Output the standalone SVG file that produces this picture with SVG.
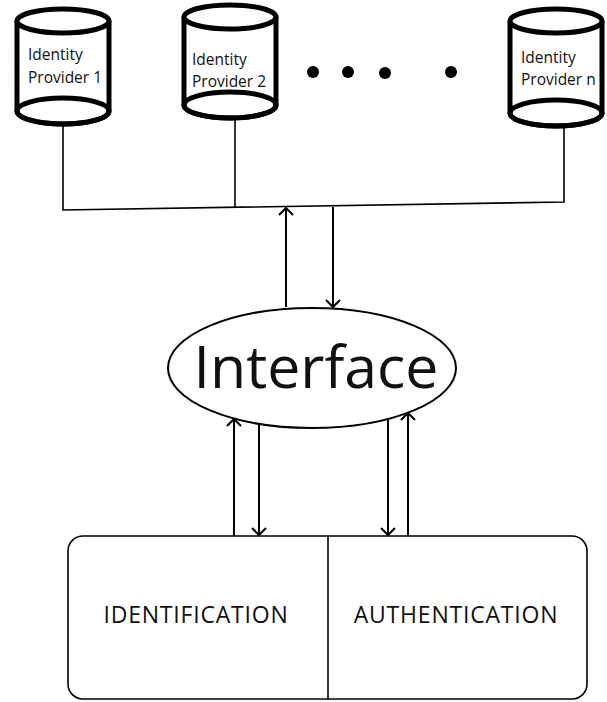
<svg xmlns="http://www.w3.org/2000/svg" width="607" height="702" viewBox="0 0 607 702">
  <style>
    .cyl { fill: #fff; stroke: #000; stroke-width: 5; }
    .rim { fill: none; stroke: #000; stroke-width: 5; }
    .lbl { font-family: "Open Sans", "Noto Sans", sans-serif; font-size: 15.5px; fill: #111; }
    .wire { fill: none; stroke: #000; stroke-width: 1.6; }
    .flow { fill: none; stroke: #000; stroke-width: 2; marker-end: url(#vee); }
    .box { fill: #fff; stroke: #000; stroke-width: 1.6; }
    .cap { font-family: "Open Sans", "Noto Sans", sans-serif; font-size: 23px; letter-spacing: 0.8px; fill: #111; }
  </style>
  <defs>
    <marker id="vee" markerWidth="16" markerHeight="16" refX="8" refY="8" orient="auto" markerUnits="userSpaceOnUse">
      <path d="M1,1 L8,8 L1,15" fill="none" stroke="#000" stroke-width="2"/>
    </marker>
  </defs>

  <rect width="607" height="702" fill="#fff"/>

  <!-- provider cylinders -->
  <g id="idp1">
    <path class="cyl" d="M17,21 L17,111 A46,13 0 0 0 109,111 L109,21"/>
    <ellipse class="cyl" cx="63" cy="21" rx="46" ry="12"/>
    <ellipse class="rim" cx="63" cy="111" rx="46" ry="13"/>
    <text class="lbl" x="28" y="60">Identity</text>
    <text class="lbl" x="28" y="83">Provider 1</text>
  </g>
  <g id="idp2">
    <path class="cyl" d="M184,17 L184,105 A46,13 0 0 0 276,105 L276,17"/>
    <ellipse class="cyl" cx="230" cy="17" rx="46" ry="12"/>
    <ellipse class="rim" cx="230" cy="105" rx="46" ry="13"/>
    <text class="lbl" x="192" y="65">Identity</text>
    <text class="lbl" x="192" y="87">Provider 2</text>
  </g>
  <g id="idpn">
    <path class="cyl" d="M510,21 L510,113 A46,13 0 0 0 602,113 L602,21"/>
    <ellipse class="cyl" cx="556" cy="21" rx="46" ry="12"/>
    <ellipse class="rim" cx="556" cy="113" rx="46" ry="13"/>
    <text class="lbl" x="521" y="63">Identity</text>
    <text class="lbl" x="521" y="85">Provider n</text>
  </g>

  <!-- ellipsis between providers -->
  <g id="more">
    <circle cx="313" cy="72" r="6"/>
    <circle cx="348" cy="72" r="6"/>
    <circle cx="385" cy="73" r="6"/>
    <circle cx="451" cy="72" r="6"/>
  </g>

  <!-- interface -->
  <g id="interface">
    <ellipse cx="312" cy="368" rx="144" ry="60" fill="#fff" stroke="#000" stroke-width="2"/>
    <text x="316" y="388" text-anchor="middle" font-family="Open Sans, Noto Sans, sans-serif" font-size="59" fill="#111">Interface</text>
  </g>

  <!-- identification / authentication block -->
  <g id="services">
    <rect class="box" x="68" y="536" width="519" height="163" rx="15"/>
    <line x1="328" y1="536" x2="328" y2="699" stroke="#000" stroke-width="1.6"/>
    <text class="cap" x="196" y="623" text-anchor="middle">IDENTIFICATION</text>
    <text class="cap" x="456" y="623" text-anchor="middle">AUTHENTICATION</text>
  </g>

  <g id="connectors">
    <!-- provider bus -->
    <path class="wire" d="M63,125 L63,210 L564,202 L564,127"/>
    <line class="wire" x1="235" y1="118" x2="235" y2="207"/>
    <!-- bus <-> interface -->
    <line class="flow" x1="286" y1="307" x2="286" y2="208"/>
    <line class="flow" x1="333" y1="207" x2="333" y2="307"/>
    <!-- interface <-> services -->
    <line class="flow" x1="234" y1="536" x2="234" y2="419"/>
    <line class="flow" x1="259" y1="424" x2="259" y2="535"/>
    <line class="flow" x1="388" y1="420" x2="388" y2="535"/>
    <line class="flow" x1="408" y1="536" x2="408" y2="413"/>
  </g>
</svg>
